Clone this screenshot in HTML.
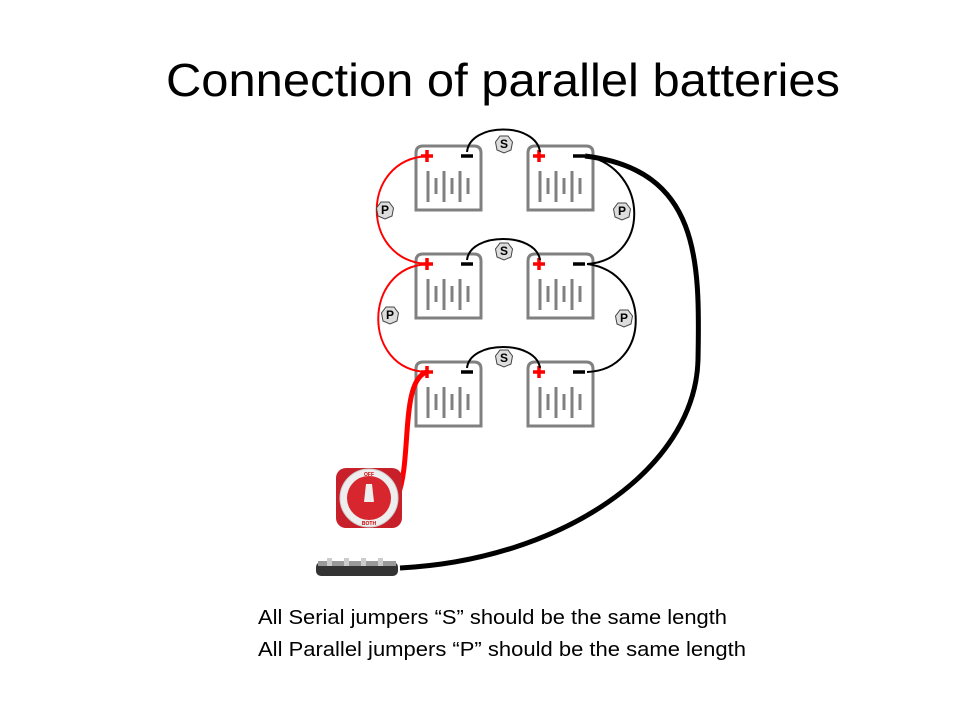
<!DOCTYPE html>
<html><head><meta charset="utf-8"><style>
body{margin:0;background:#fff;width:960px;height:720px;overflow:hidden;font-family:"Liberation Sans",sans-serif}
</style></head><body>
<svg width="960" height="720" xmlns="http://www.w3.org/2000/svg">
<text x="166" y="96" font-family="Liberation Sans, sans-serif" font-size="46" textLength="674" lengthAdjust="spacingAndGlyphs">Connection of parallel batteries</text>
<defs>
<g id="bat">
<path d="M0,64 V7 Q0,0 7,0 H58 Q65,0 65,7 V64 Z" fill="none" stroke="#808080" stroke-width="3"/>
<g stroke="#808080" stroke-width="3">
<line x1="12" y1="25" x2="12" y2="56"/><line x1="20" y1="32" x2="20" y2="48"/>
<line x1="28" y1="25" x2="28" y2="56"/><line x1="36" y1="32" x2="36" y2="48"/>
<line x1="44" y1="25" x2="44" y2="56"/><line x1="52" y1="32" x2="52" y2="48"/>
</g>
<path d="M5,10 H17 M11,4 V16" stroke="#f00" stroke-width="3.5"/>
<path d="M45,10 H57" stroke="#000" stroke-width="3.5"/>
</g>
<g id="hex"><polygon points="-4,-8 4,-8 8.5,-2 7,6 0,9 -7,6 -8.5,-2" fill="#ddd" stroke="#444" stroke-width="1"/></g>
</defs>
<use href="#bat" x="416" y="146"/><use href="#bat" x="528" y="146"/>
<use href="#bat" x="416" y="254"/><use href="#bat" x="528" y="254"/>
<use href="#bat" x="416" y="362"/><use href="#bat" x="528" y="362"/>
<g fill="none" stroke="#000" stroke-width="2">
<path d="M467,152 C470,122 536,122 540,152"/>
<path d="M467,260 C470,232 536,232 540,260"/>
<path d="M467,368 C470,340 536,340 540,368"/>
<path d="M587,156 C650,170 650,260 587,264"/>
<path d="M587,264 C652,272 652,370 587,372"/>
</g>
<g fill="none" stroke="#f00" stroke-width="2">
<path d="M427,156 C360,160 360,260 427,264"/>
<path d="M427,264 C362,268 362,370 427,372"/>
</g>
<path d="M427,372 C400,380 412,460 398,495" fill="none" stroke="#f00" stroke-width="5"/>
<path d="M585,156 C700,170 700,260 698,360 C695,470 560,560 400,568" fill="none" stroke="#000" stroke-width="5"/>
<g font-family="Liberation Sans, sans-serif" font-weight="bold" font-size="12" text-anchor="middle">
<use href="#hex" x="504" y="144"/><text x="504" y="148">S</text>
<use href="#hex" x="504" y="251"/><text x="504" y="255">S</text>
<use href="#hex" x="504" y="358"/><text x="504" y="362">S</text>
<use href="#hex" x="385" y="210"/><text x="385" y="214">P</text>
<use href="#hex" x="390" y="315"/><text x="390" y="319">P</text>
<use href="#hex" x="622" y="211"/><text x="622" y="215">P</text>
<use href="#hex" x="624" y="318"/><text x="624" y="322">P</text>
</g>
<!-- switch -->
<rect x="336" y="468" width="66" height="60" rx="10" fill="#c8202a"/>
<circle cx="369" cy="498" r="29" fill="#eee" stroke="#ccc"/>
<circle cx="369" cy="498" r="22" fill="#d8262e"/>
<path d="M366,484 L372,484 L374,502 L364,502 Z" fill="#eee"/>
<text x="369" y="476" font-size="5" text-anchor="middle" font-weight="bold" fill="#c00">OFF</text>
<text x="369" y="525" font-size="5" text-anchor="middle" font-weight="bold" fill="#c00">BOTH</text>
<!-- bus bar -->
<rect x="316" y="562" width="82" height="14" rx="5" fill="#333"/>
<rect x="318" y="561" width="78" height="5" fill="#999"/>
<g fill="#ccc"><rect x="327" y="558" width="5" height="8"/><rect x="344" y="558" width="5" height="8"/><rect x="361" y="558" width="5" height="8"/><rect x="378" y="558" width="5" height="8"/></g>
<g font-family="Liberation Sans, sans-serif" font-size="20" fill="#000">
<text x="258" y="624" textLength="469" lengthAdjust="spacingAndGlyphs">All Serial jumpers “S” should be the same length</text>
<text x="258" y="656" textLength="488" lengthAdjust="spacingAndGlyphs">All Parallel jumpers “P” should be the same length</text>
</g>
</svg>
</body></html>
